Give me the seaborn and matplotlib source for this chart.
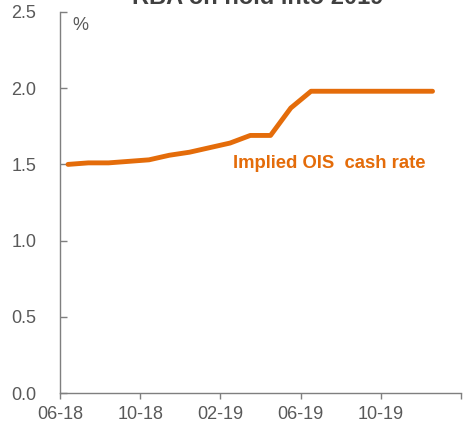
import matplotlib
matplotlib.use("Agg")
import matplotlib.pyplot as plt
import seaborn as sns
import pandas as pd

months = [0.4 + k * 1.01 for k in range(19)]
rate = [1.50, 1.51, 1.51, 1.52, 1.53, 1.56, 1.58, 1.61, 1.64, 1.69, 1.69,
        1.87, 1.98, 1.98, 1.98, 1.98, 1.98, 1.98, 1.98]
tick_pos = [0, 4, 8, 12, 16, 20]
tick_labels = ["06-18", "10-18", "02-19", "06-19", "10-19", ""]
yticks = [0.0, 0.5, 1.0, 1.5, 2.0, 2.5]

sns.set_theme(style="white")
plt.rcParams['font.family'] = ['Liberation Sans', 'DejaVu Sans']

df = pd.DataFrame({"month": months, "rate": rate})

W, H = 469, 423
fig = plt.figure(figsize=(W / 100, H / 100), dpi=100)
ax = fig.add_axes([60 / W, 1 - 393 / H, (461 - 60) / W, (393 - 12) / H])

orange = "#E46C0A"
gray = "#595959"
sns.lineplot(data=df, x="month", y="rate", ax=ax, color=orange, linewidth=3.5,
             solid_capstyle="round", solid_joinstyle="round")

ax.set_xlim(0, 20)
ax.set_ylim(0, 2.5)
ax.set_xticks(tick_pos)
ax.set_xticklabels(tick_labels)
ax.set_yticks(yticks)
ax.set_yticklabels([f"{v:.1f}" for v in yticks])
ax.set_xlabel("")
ax.set_ylabel("")

for s in ["top", "right"]:
    ax.spines[s].set_visible(False)
for s in ["left", "bottom"]:
    ax.spines[s].set_color("#7f7f7f")
    ax.spines[s].set_linewidth(1.0)

ax.tick_params(axis="x", direction="out", length=4, width=1, color="#7f7f7f",
               labelsize=13, labelcolor=gray, pad=5, bottom=True)
ax.tick_params(axis="y", direction="in", length=5, width=1, color="#7f7f7f",
               labelsize=13, labelcolor=gray, pad=17, left=True)

fig.text(80 / W, 1 - 25 / H, "%", fontsize=13, color=gray, ha="center", va="center")
fig.text(233 / W, 1 - 164 / H, "Implied OIS  cash rate", fontsize=13.3,
         fontweight="bold", color=orange, ha="left", va="center")
fig.text(258 / W, 1 - 4 / H, "RBA on hold into 2019", fontsize=17,
         fontweight="bold", color="#404040", ha="center", va="baseline")

fig.savefig("out.png", dpi=100)
